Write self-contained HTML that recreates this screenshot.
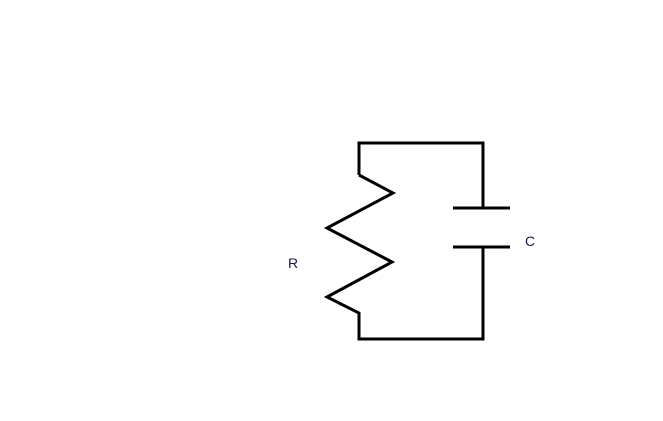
<!DOCTYPE html>
<html><head><style>html,body{margin:0;padding:0;background:#fff;width:663px;height:421px;overflow:hidden}</style></head>
<body>
<svg width="663" height="421" xmlns="http://www.w3.org/2000/svg">
<g fill="none" stroke="#000" stroke-width="3" stroke-linejoin="miter" stroke-linecap="butt">
<polyline points="359,175 359,143 483,143 483,208"/>
<polyline points="359,175 393,193 327,228 392,262 327,297 359,313 359,339 483,339 483,247"/>
<line x1="453" y1="208" x2="510" y2="208"/>
<line x1="453" y1="247" x2="510" y2="247"/>
</g>
<text x="525" y="246" font-family="Liberation Sans, sans-serif" font-size="14" fill="#1a1a40">C</text>
<text x="288" y="268" font-family="Liberation Sans, sans-serif" font-size="14" fill="#1a1a40">R</text>
</svg>
</body></html>
